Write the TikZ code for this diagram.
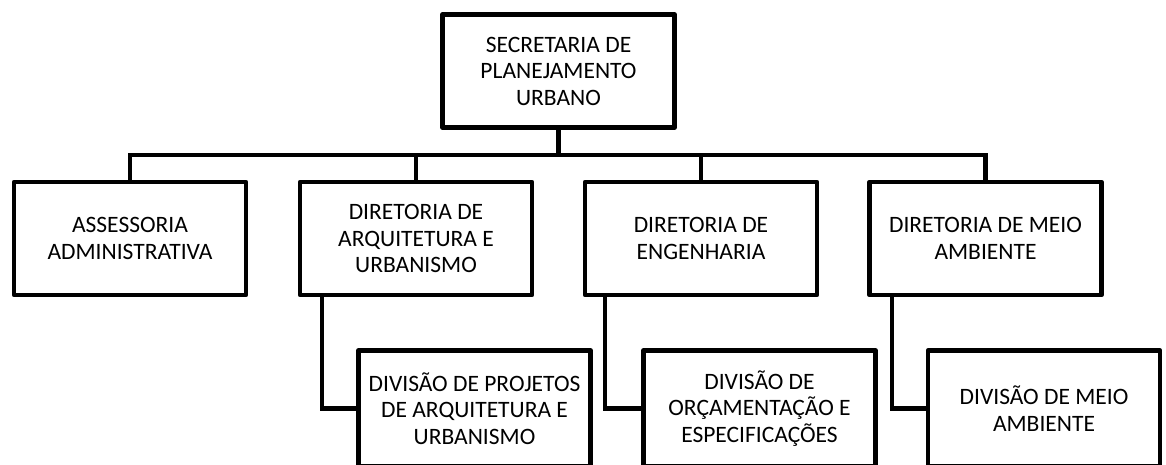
\documentclass[tikz,border=0pt]{standalone}
\usepackage{fontspec}
\setmainfont{Carlito}

\begin{document}
\begin{tikzpicture}[x=1pt,y=-1pt,
	caixa/.style={draw,rectangle,line width=4.5pt,line join=round,minimum width=232pt,minimum height=113pt,inner sep=0pt,align=center,font=\fontsize{23.5}{26.5}\selectfont},
	liga/.style={line width=4.5pt}]
\useasboundingbox (0,0) rectangle (1166,464);

\node[caixa] (sec) at (558.5,71) {SECRETARIA DE\\PLANEJAMENTO\\URBANO};

\node[caixa] (ass) at (130,238.5) {ASSESSORIA\\ADMINISTRATIVA};
\node[caixa] (dau) at (416,238.5) {DIRETORIA DE\\ARQUITETURA E\\URBANISMO};
\node[caixa] (den) at (701,238.5) {DIRETORIA DE\\ENGENHARIA};
\node[caixa] (dma) at (985.5,238.5) {DIRETORIA DE MEIO\\AMBIENTE};

\node[caixa,minimum height=116pt] (dpa) at (474.5,408.5) {DIVISÃO DE PROJETOS\\DE ARQUITETURA E\\URBANISMO};
\node[caixa,minimum height=116pt] (doe) at (759.5,408.5) {DIVISÃO DE\\ORÇAMENTAÇÃO E\\ESPECIFICAÇÕES};
\node[caixa,minimum height=116pt] (dvm) at (1044,408.5) {DIVISÃO DE MEIO\\AMBIENTE};

\coordinate (bus) at (558.5,155);
\draw[liga] (sec.south) -- (bus);
\foreach \n in {ass,dau,den,dma}
	\draw[liga] (bus) -| (\n.north);

\draw[liga] ([xshift=-94pt]dau.south) |- (dpa.west);
\draw[liga] ([xshift=-96pt]den.south) |- (doe.west);
\draw[liga] ([xshift=-93.5pt]dma.south) |- (dvm.west);
\end{tikzpicture}
\end{document}
